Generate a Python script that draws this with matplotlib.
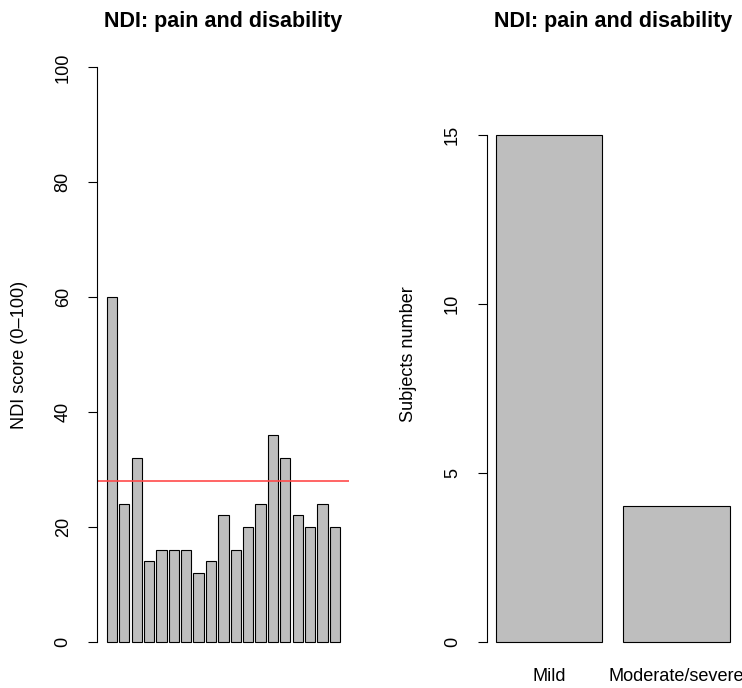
import numpy as np
import matplotlib.pyplot as plt

# NDI scores per subject (0-100) and cut-off line
ndi_scores = [60, 24, 32, 14, 16, 16, 16, 12, 14, 22, 16, 20, 24, 36, 32, 22, 20, 24, 20]
cutoff = 28

# Subjects by disability class
classes = ["Mild", "Moderate/severe"]
class_counts = [15, 4]

left_ticks = [0, 20, 40, 60, 80, 100]
right_ticks = [0, 5, 10, 15]

plt.rcParams["font.family"] = ["Liberation Sans", "DejaVu Sans"]
base_fs = 13.1
title_fs = 15.5

fig = plt.figure(figsize=(7.42, 6.88), dpi=100)
ax1 = fig.add_axes([0.1313, 0.0342, 0.3395, 0.9012])
ax2 = fig.add_axes([0.6558, 0.0342, 0.3402, 0.9012])


def barplot(ax, heights, ylim):
    # barplot layout: width 1, space 0.2, axes padded by 4%
    n = len(heights)
    pos = 0.2 + np.arange(n) * 1.2 + 0.5
    ax.bar(pos, heights, width=1.0, color="#bebebe", edgecolor="black", linewidth=0.8)
    lo, hi = 0.2, n * 1.2
    pad = 0.04 * (hi - lo)
    ax.set_xlim(lo - pad, hi + pad)
    ypad = 0.04 * (ylim[1] - ylim[0])
    ax.set_ylim(ylim[0] - ypad, ylim[1] + ypad)
    for s in ["top", "right", "bottom"]:
        ax.spines[s].set_visible(False)
    ax.spines["left"].set_linewidth(0.8)
    ax.tick_params(axis="y", length=6.5, width=0.8, pad=12, labelsize=base_fs)
    ax.tick_params(axis="x", length=0, pad=2.5, labelsize=base_fs)
    return pos


pos1 = barplot(ax1, ndi_scores, (0, 100))
ax1.axhline(cutoff, color="#ff4a4a", linewidth=1.2)
ax1.set_yticks(left_ticks)
ax1.set_yticklabels([str(t) for t in left_ticks], rotation=90, va="center")
ax1.spines["left"].set_bounds(left_ticks[0], left_ticks[-1])
ax1.set_xticks([])
ax1.set_title("NDI: pain and disability", fontsize=title_fs, fontweight="bold", pad=12.5)
ax1.set_ylabel("NDI score (0\u2013100)", fontsize=base_fs, va="center")
ax1.yaxis.set_label_coords(-0.309, 0.5)

pos2 = barplot(ax2, class_counts, (0, 17))
ax2.set_yticks(right_ticks)
ax2.set_yticklabels([str(t) for t in right_ticks], rotation=90, va="center")
ax2.spines["left"].set_bounds(right_ticks[0], right_ticks[-1])
ax2.set_xticks(pos2)
ax2.set_xticklabels(classes)
ax2.set_title("NDI: pain and disability", fontsize=title_fs, fontweight="bold", pad=12.5)
ax2.set_ylabel("Subjects number", fontsize=base_fs, va="center")
ax2.yaxis.set_label_coords(-0.309, 0.5)

fig.savefig("out.png", dpi=100)
